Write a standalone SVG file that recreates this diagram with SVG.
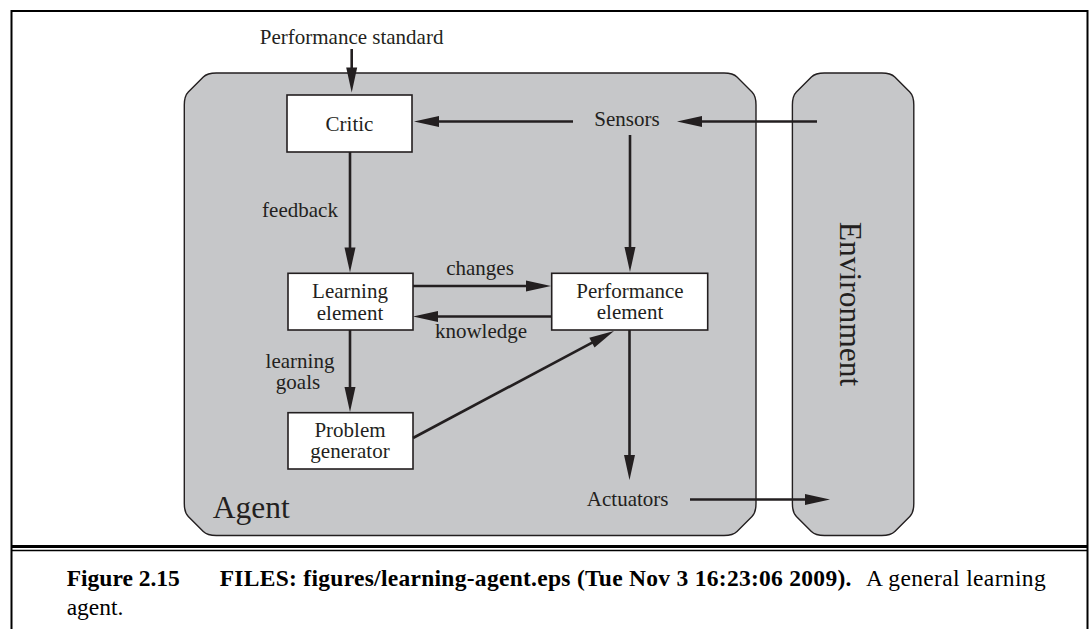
<svg xmlns="http://www.w3.org/2000/svg" width="1089" height="629" viewBox="0 0 1089 629">
<defs>
<style>
.t{font-family:"Liberation Serif","Times New Roman",serif;font-size:21px;fill:#231f20;text-anchor:middle}
.big{font-family:"Liberation Serif","Times New Roman",serif;font-size:31.5px;fill:#231f20}
.cap{font-family:"Liberation Serif","Times New Roman",serif;font-size:23.5px;fill:#000}
.b{font-weight:bold}
.shell{fill:#c6c7c9;stroke:#231f20;stroke-width:1.4}
.box{fill:#fff;stroke:#231f20;stroke-width:1.6}
.c line{stroke:#231f20;stroke-width:2.6;fill:none}
.arr{marker-end:url(#ah)}
</style>
<marker id="ah" markerUnits="userSpaceOnUse" markerWidth="25" markerHeight="11" refX="13" refY="5.5" orient="auto" overflow="visible">
<path d="M0,0 L25,5.5 L0,11 Z" fill="#231f20"/>
</marker>
</defs>
<rect x="0" y="0" width="1089" height="629" fill="#fff"/>
<rect x="11.5" y="11" width="1076" height="640" fill="none" stroke="#000" stroke-width="2"/>
<line x1="11" y1="546.5" x2="1088" y2="546.5" stroke="#000" stroke-width="3"/>
<line x1="11" y1="550.5" x2="1088" y2="550.5" stroke="#000" stroke-width="1.5"/>

<g id="agent">
<path class="shell" d="M184.3,105 Q184.3,96 188.3,92 L203.3,77 Q207.3,73 216.3,73 L724,73 Q733,73 737,77 L752,92 Q756,96 756,105 L756,503.5 Q756,512.5 752,516.5 L737,531.5 Q733,535.5 724,535.5 L216.3,535.5 Q207.3,535.5 203.3,531.5 L188.3,516.5 Q184.3,512.5 184.3,503.5 Z"/>
<text class="big" x="212.7" y="518">Agent</text>
</g>
<g id="environment">
<path class="shell" d="M792.4,105 Q792.4,96 796.4,92 L811.4,77 Q815.4,73 824.4,73 L881.8,73 Q890.8,73 894.8,77 L909.8,92 Q913.8,96 913.8,105 L913.8,503.5 Q913.8,512.5 909.8,516.5 L894.8,531.5 Q890.8,535.5 881.8,535.5 L824.4,535.5 Q815.4,535.5 811.4,531.5 L796.4,516.5 Q792.4,512.5 792.4,503.5 Z"/>
<text class="big" text-anchor="middle" transform="translate(840,304) rotate(90)">Environment</text>
</g>

<g id="standard"><text class="t" x="351.6" y="44">Performance standard</text></g>
<g id="sensors"><text class="t" x="627" y="126">Sensors</text></g>
<g id="actuators"><text class="t" x="627.7" y="505.5">Actuators</text></g>

<g id="critic">
<rect class="box" x="287" y="95" width="125" height="57"/>
<text class="t" x="349.5" y="130.5">Critic</text>
</g>
<g id="learning">
<rect class="box" x="288" y="273.3" width="125" height="56.7"/>
<text class="t" x="350" y="298">Learning</text>
<text class="t" x="350" y="319.5">element</text>
</g>
<g id="performance">
<rect class="box" x="551.7" y="273.3" width="156" height="56.7"/>
<text class="t" x="630" y="297.5">Performance</text>
<text class="t" x="630" y="319">element</text>
</g>
<g id="problem">
<rect class="box" x="288" y="412.7" width="125" height="56.3"/>
<text class="t" x="350" y="437">Problem</text>
<text class="t" x="350" y="458">generator</text>
</g>

<g id="connectors" class="c">
<line class="arr" x1="351.7" y1="49" x2="351.7" y2="80.5"/>
<line class="arr" x1="573" y1="121.5" x2="426" y2="121.5"/>
<line class="arr" x1="817" y1="121.5" x2="689" y2="121.5"/>
<line class="arr" x1="630" y1="135" x2="630" y2="260"/>
<line class="arr" x1="350" y1="152" x2="350" y2="260.5"/>
<line class="arr" x1="413" y1="286" x2="539" y2="286"/>
<line class="arr" x1="551.7" y1="316.5" x2="425" y2="316.5"/>
<line class="arr" x1="350" y1="330" x2="350" y2="400"/>
<line class="arr" x1="413" y1="438" x2="603.4" y2="336.6"/>
<line class="arr" x1="629.5" y1="330" x2="629.5" y2="468"/>
<line class="arr" x1="690" y1="499.5" x2="818" y2="499.5"/>
<text class="t" x="300" y="217">feedback</text>
<text class="t" x="480" y="275">changes</text>
<text class="t" x="481" y="338">knowledge</text>
<text class="t" x="300" y="368">learning</text>
<text class="t" x="298" y="389">goals</text>
</g>

<g id="caption">
<text class="cap b" x="66.7" y="586">Figure 2.15</text>
<text class="cap b" x="219.7" y="586" textLength="631.7" lengthAdjust="spacing">FILES: figures/learning-agent.eps (Tue Nov 3 16:23:06 2009).</text>
<text class="cap" x="866" y="586" textLength="179.7" lengthAdjust="spacing">A general learning</text>
<text class="cap" x="66.7" y="615">agent.</text>
</g>
</svg>
